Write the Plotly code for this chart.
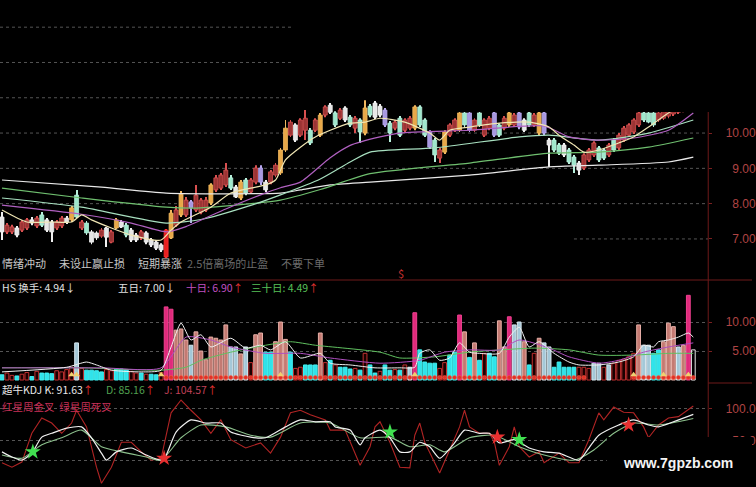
import plotly.graph_objects as go

W, H = 756, 487

# ---------------- price (candles) ----------------
opens = [7.62, 7.20, 7.20, 7.31, 7.25, 7.31, 7.54, 7.37, 7.68, 7.54,
         7.48, 7.31, 7.37, 7.59, 7.54, 8.24, 7.31, 7.45, 7.20, 7.17,
         7.08, 7.31, 6.91, 7.31, 7.48, 7.39, 7.25, 7.11, 7.03, 7.17,
         6.97, 6.91, 6.83, 6.49, 7.03, 7.39, 7.68, 7.68, 8.05, 7.82,
         7.76, 7.82, 8.02, 8.39, 8.44, 8.53, 8.73, 8.47, 8.16, 8.67,
         8.33, 8.61, 9.01, 8.61, 8.61, 8.81, 8.87, 9.52, 10.31, 10.23,
         9.94, 10.08, 10.08, 10.08, 9.94, 10.51, 10.79, 10.57, 10.42, 10.71,
         10.45, 10.14, 10.37, 10.00, 10.76, 10.85, 10.76, 10.65, 10.28, 10.14,
         10.42, 10.08, 10.14, 10.14, 10.74, 10.37, 10.03, 9.80, 9.29, 9.46,
         9.94, 10.08, 10.08, 10.57, 10.57, 10.08, 10.57, 9.94, 10.14, 10.57,
         10.23, 10.14, 10.23, 10.23, 10.57, 10.37, 10.57, 10.23, 10.00, 10.57,
         9.80, 9.80, 9.66, 9.66, 9.52, 9.32, 9.15, 9.01, 9.24, 9.38,
         9.58, 9.52, 9.38, 9.80, 9.58, 9.80, 9.94, 10.03, 10.23, 10.57,
         10.57, 10.57, 10.37, 10.42, 10.48, 10.54, 10.59, 10.65, 10.68, 10.71]
highs = [7.76, 7.45, 7.40, 7.37, 7.54, 7.59, 7.62, 7.65, 7.76, 7.59,
         7.54, 7.54, 7.65, 7.65, 7.93, 8.39, 7.54, 7.51, 7.25, 7.22,
         7.31, 7.34, 7.25, 7.59, 7.54, 7.45, 7.31, 7.17, 7.25, 7.22,
         7.03, 6.97, 6.88, 7.28, 7.82, 7.93, 8.36, 8.19, 8.10, 8.53,
         8.16, 8.19, 8.58, 8.81, 8.87, 9.15, 8.81, 8.53, 8.67, 8.73,
         8.73, 9.09, 9.09, 8.67, 8.95, 9.15, 9.58, 10.37, 10.37, 10.28,
         10.42, 10.65, 10.14, 10.42, 10.57, 10.79, 10.85, 10.62, 10.71, 10.76,
         10.51, 10.48, 10.42, 10.93, 10.82, 10.91, 10.82, 10.71, 10.34, 10.37,
         10.48, 10.42, 10.48, 10.79, 10.79, 10.42, 10.08, 9.86, 9.58, 10.08,
         10.28, 10.42, 10.65, 10.62, 10.62, 10.42, 10.62, 10.42, 10.48, 10.62,
         10.28, 10.48, 10.62, 10.57, 10.62, 10.42, 10.62, 10.57, 10.62, 10.62,
         9.86, 9.86, 9.72, 9.72, 9.58, 9.38, 9.21, 9.43, 9.58, 9.77,
         9.63, 9.58, 9.72, 9.86, 10.00, 10.20, 10.28, 10.42, 10.62, 10.62,
         10.62, 10.62, 10.62, 10.71, 10.76, 10.82, 10.85, 10.88, 10.91, 10.93]
lows = [6.97, 7.14, 7.14, 7.05, 7.20, 7.25, 7.39, 7.31, 7.34, 7.20,
        6.91, 7.25, 7.31, 7.42, 7.48, 7.59, 7.25, 7.11, 6.85, 6.97,
        7.03, 6.77, 6.88, 7.28, 7.31, 7.05, 6.91, 6.91, 6.97, 6.85,
        6.77, 6.69, 6.63, 6.46, 7.00, 7.34, 7.62, 7.62, 7.45, 7.76,
        7.70, 7.76, 7.96, 8.33, 8.39, 8.47, 8.39, 8.16, 8.10, 8.24,
        8.27, 8.55, 8.53, 8.33, 8.55, 8.75, 8.81, 9.46, 9.89, 9.75,
        9.89, 9.80, 9.66, 10.03, 9.89, 10.45, 10.54, 10.17, 10.37, 10.31,
        10.17, 10.00, 9.72, 9.94, 10.45, 10.40, 10.45, 10.17, 9.75, 10.08,
        9.89, 10.03, 10.08, 10.08, 10.17, 9.89, 9.55, 9.18, 9.15, 9.41,
        9.89, 10.03, 10.03, 10.17, 10.03, 10.03, 10.17, 9.89, 10.08, 9.89,
        9.89, 10.08, 10.17, 10.17, 10.11, 10.03, 10.17, 10.17, 9.94, 9.94,
        9.04, 9.46, 9.38, 9.32, 9.12, 8.87, 8.81, 8.95, 9.18, 9.32,
        9.18, 9.24, 9.32, 9.46, 9.52, 9.75, 9.89, 9.97, 10.17, 10.31,
        10.28, 10.17, 10.31, 10.37, 10.42, 10.48, 10.54, 10.59, 10.62, 10.65]
closes = [7.20, 7.39, 7.34, 7.11, 7.48, 7.54, 7.45, 7.59, 7.39, 7.25,
          7.20, 7.48, 7.59, 7.48, 7.88, 7.62, 7.48, 7.17, 6.91, 7.03,
          7.25, 7.05, 7.20, 7.54, 7.34, 7.11, 6.97, 6.97, 7.20, 6.91,
          6.83, 6.74, 6.69, 7.25, 7.73, 7.82, 8.27, 8.10, 7.88, 8.24,
          8.10, 8.10, 8.53, 8.73, 8.81, 8.95, 8.44, 8.19, 8.61, 8.30,
          8.67, 9.01, 8.61, 8.39, 8.90, 9.09, 9.52, 10.14, 9.94, 9.80,
          10.37, 10.42, 9.72, 10.37, 10.51, 10.74, 10.59, 10.23, 10.65, 10.37,
          10.23, 10.42, 10.03, 10.71, 10.51, 10.45, 10.51, 10.23, 10.00, 10.31,
          9.94, 10.37, 10.42, 10.74, 10.23, 9.94, 9.60, 9.38, 9.52, 10.03,
          10.23, 10.37, 10.57, 10.23, 10.08, 10.37, 10.23, 10.37, 10.42, 9.94,
          9.94, 10.42, 10.57, 10.51, 10.17, 10.08, 10.23, 10.51, 10.57, 10.00,
          9.66, 9.52, 9.43, 9.38, 9.18, 9.09, 8.95, 9.38, 9.52, 9.72,
          9.24, 9.29, 9.66, 9.52, 9.94, 10.14, 10.23, 10.37, 10.57, 10.37,
          10.31, 10.23, 10.57, 10.65, 10.71, 10.76, 10.79, 10.82, 10.85, 10.88]
# candle colour class: w white, r red, o orange, t mint, l lavender, B bright red
candle_kind = list("wrrwrrwrtw" "wrrwotrtww" "rwrowtwwrw" "wwwBororlr"
                   "rrorrrtwot" "rrlwrroorw" "rrtrorwtrw" "trtotwwltr"
                   "trrottltro" "rrotlrtrrl" "trorlwtrol" "wttwttwrrr"
                   "ttrtrrrrrt" "ttrrrrrrrr")

# moving averages of price (bar index, price)
ma5_x = [0, 5, 10, 14, 16, 18, 22, 26, 32, 34, 36, 42, 46, 50, 53, 55, 57, 60, 63, 66, 70, 73, 76,
         81, 86, 88, 90, 94, 100, 106, 110, 112, 115, 117, 120, 124, 127, 130, 134, 139]
ma5_y = [7.82, 7.48, 7.48, 7.48, 7.68, 7.54, 7.31, 7.11, 6.97, 7.25, 7.48, 7.90, 8.30, 8.44, 8.53,
         8.67, 9.24, 9.60, 9.89, 10.08, 10.28, 10.31, 10.42, 10.31, 10.00, 9.80, 10.08, 10.17, 10.28,
         10.31, 10.17, 9.94, 9.66, 9.46, 9.52, 9.72, 9.89, 10.17, 10.57, 10.93]
ma10_x = [0, 16, 26, 33, 37, 45, 52, 56, 60, 66, 70, 76, 80, 94, 109, 114, 120, 127, 134, 139]
ma10_y = [7.96, 7.70, 7.45, 7.20, 7.35, 7.85, 8.25, 8.45, 8.61, 9.30, 9.65, 9.89, 10.00, 10.08,
          10.20, 9.89, 9.80, 9.86, 10.08, 10.57]
ma20_x = [0, 16, 33, 40, 50, 56, 64, 70, 74, 87, 104, 110, 120, 130, 139]
ma20_y = [8.16, 7.90, 7.45, 7.55, 7.95, 8.25, 8.70, 9.18, 9.46, 9.58, 9.89, 9.94, 9.80, 10.00, 10.37]
ma60_x = [0, 16, 33, 40, 56, 64, 74, 94, 110, 120, 130, 139]
ma60_y = [8.44, 8.16, 7.90, 7.88, 8.10, 8.40, 8.85, 9.15, 9.43, 9.46, 9.60, 9.86]
ma120_x = [0, 20, 33, 56, 60, 66, 74, 94, 110, 120, 134, 139]
ma120_y = [8.67, 8.47, 8.30, 8.30, 8.39, 8.53, 8.61, 8.81, 9.04, 9.09, 9.18, 9.32]
price_ticks = [7, 8, 9, 10, 11, 12, 13]

# ---------------- turnover (HS) ----------------
volume = [0.9, 1.2, 0.8, 0.7, 1.0, 1.3, 0.6, 1.5, 1.2, 1.2,
          1.1, 1.6, 1.4, 1.8, 2.2, 6.4, 2.0, 1.7, 1.7, 1.6,
          1.4, 1.8, 1.6, 1.9, 1.9, 1.8, 1.5, 1.2, 1.2, 1.0,
          1.0, 0.9, 1.3, 12.6, 12.2, 8.6, 8.8, 6.9, 6.0, 8.3,
          5.0, 3.5, 7.4, 7.2, 6.9, 9.5, 5.7, 5.7, 4.5, 5.7,
          3.0, 7.8, 8.1, 4.8, 4.8, 6.6, 10.0, 7.0, 4.8, 2.0,
          2.2, 2.6, 2.6, 2.6, 8.1, 3.0, 3.4, 2.6, 2.2, 2.2,
          1.9, 2.0, 1.7, 4.6, 2.6, 1.2, 1.5, 2.6, 1.7, 1.8,
          1.7, 2.6, 2.2, 11.6, 5.2, 3.1, 2.9, 2.9, 2.0, 3.0,
          4.3, 4.8, 11.2, 8.3, 3.9, 6.4, 3.4, 4.6, 4.6, 4.0,
          10.2, 5.7, 10.9, 9.5, 10.0, 6.6, 2.6, 4.6, 7.2, 6.4,
          5.7, 2.2, 3.1, 2.2, 2.2, 2.2, 2.2, 2.2, 2.0, 2.9,
          2.9, 2.2, 2.6, 2.9, 3.4, 3.6, 4.0, 4.6, 9.5, 6.0,
          6.0, 4.6, 5.2, 6.6, 9.8, 9.2, 5.7, 6.0, 14.6, 5.2]
# m magenta, s salmon, b pale blue, c cyan, r hollow red, w hollow white
volume_kind = list("crrcrrcrcc" "crrrrbrccc" "crrcccrrcr" "ccrmmsssbs"
                   "ssssssbbsb" "rssccssscr" "rcccsrcrcc" "crcrccrccr"
                   "crbmccccrr" "ccmscscrcc" "ssmbbscrsb" "bcccccrrrb"
                   "brbrrrrrsb" "bccsssbsmw")

hs5_x = [0, 13, 17, 19, 22, 28, 32, 34, 36, 38, 40, 42, 46, 49, 52, 54, 57, 60, 64, 66, 70, 75, 80,
         83, 84, 86, 88, 90, 92, 94, 96, 100, 102, 104, 106, 108, 111, 114, 116, 120, 124, 127, 129,
         131, 132, 134, 136, 138, 139]
hs5_y = [1.4, 2.2, 3.1, 2.6, 1.7, 1.4, 1.7, 5.7, 9.8, 6.9, 7.8, 5.7, 7.2, 5.5, 6.0, 5.2, 6.6, 3.8,
         4.6, 2.9, 2.6, 2.1, 2.1, 2.2, 4.6, 5.2, 3.4, 3.8, 6.4, 4.8, 4.6, 4.6, 7.4, 9.1, 5.7, 6.6, 4.6,
         3.1, 2.6, 2.6, 3.1, 4.0, 6.0, 5.7, 6.6, 6.9, 7.4, 8.1, 7.4]
hs10_x = [0, 20, 32, 37, 42, 46, 53, 60, 66, 76, 84, 89, 94, 100, 104, 110, 114, 120, 124, 129, 134, 139]
hs10_y = [2.1, 2.1, 2.1, 7.4, 6.9, 5.7, 4.6, 4.6, 3.8, 2.9, 3.4, 4.8, 5.2, 5.2, 6.9, 5.5, 4.0, 2.9,
          3.4, 4.8, 5.7, 6.4]
hs30_x = [0, 16, 32, 37, 40, 46, 53, 58, 63, 76, 80, 87, 94, 107, 114, 120, 127, 134, 139]
hs30_y = [2.1, 2.1, 1.7, 2.2, 3.4, 4.8, 6.0, 6.6, 6.0, 4.8, 3.8, 4.0, 4.8, 5.5, 5.2, 4.3, 4.3, 4.6, 4.6]
signal_red_ranges = [(33, 117), (127, 139)]
signal_yellow = [14, 15, 32, 56, 83, 127, 133, 138]

# ---------------- KDJ ----------------
k_x = [0, 2, 4, 6, 8, 10, 13, 16, 18, 20, 21, 23, 26, 29, 32, 33, 35, 38, 41, 44, 46, 50, 53, 57,
       60, 63, 66, 67, 70, 72, 73, 76, 78, 80, 82, 84, 86, 88, 91, 93, 96, 98, 100, 103, 106, 109,
       112, 116, 118, 120, 124, 127, 130, 132, 135, 139]
k_y = [33, 25, 20, 31, 56, 62, 70, 72, 55, 31, 20, 33, 39, 28, 20, 28, 64, 83, 78, 78, 64, 56, 55,
       72, 83, 80, 80, 72, 67, 44, 55, 67, 55, 33, 33, 48, 41, 23, 47, 67, 62, 62, 47, 52, 39, 33,
       31, 20, 39, 59, 75, 83, 75, 72, 80, 91.63]
d_x = [0, 4, 8, 12, 16, 20, 24, 29, 32, 36, 40, 45, 50, 54, 60, 66, 72, 78, 82, 86, 89, 94, 99,
       104, 109, 115, 119, 123, 127, 132, 139]
d_y = [28, 23, 44, 55, 67, 41, 33, 25, 20, 55, 75, 72, 59, 56, 78, 78, 55, 56, 41, 44, 33, 55, 59,
       41, 28, 20, 36, 62, 78, 75, 85.16]
j_x = [0, 2, 4, 6, 8, 10, 12, 14, 15, 17, 19, 20, 22, 24, 26, 28, 30, 32, 34, 36, 38, 40, 42, 44,
       46, 49, 52, 54, 56, 58, 60, 62, 65, 66, 69, 71, 72, 74, 75, 76, 78, 80, 82, 83, 84, 85, 87,
       88, 90, 92, 93, 94, 96, 98, 99, 100, 102, 103, 104, 106, 108, 109, 112, 114, 116, 118, 120,
       121, 123, 125, 127, 129, 130, 132, 134, 136, 139]
j_y = [16, 9, 17, 62, 86, 78, 62, 78, 98, 72, 9, -16, 9, 48, 48, 33, 20, 23, 94, 114, 98, 83, 62,
       83, 52, 39, 47, 31, 56, 94, 98, 91, 83, 67, 67, 31, 12, 41, 72, 80, 48, 9, 8, 59, 78, 48, 16,
       0, 36, 72, 98, 72, 62, 62, 48, 12, 41, 72, 41, 25, 33, 16, 31, 16, 16, 52, 94, 83, 103, 95,
       94, 72, 55, 75, 86, 88, 104.57]
gold_star_x = [32.6, 99.6, 126]
gold_star_y = [23, 56, 75]
dead_star_x = [6.2, 78, 104]
dead_star_y = [33, 64, 52]

N = len(closes)
idx = list(range(N))

CANDLE_FILL = {"w": "#e6e6e6", "r": "#9c3434", "o": "#e8a848", "t": "#9fe8cc",
               "l": "#a898e0", "B": "#e82020"}
CANDLE_LINE = {"w": "#f0f0f0", "r": "#d85050", "o": "#f0b860", "t": "#b8f0dc",
               "l": "#b8a8f0", "B": "#ff3030"}
VOL_FILL = {"m": "#e02a7c", "s": "#c47a72", "b": "#a4c8d8", "c": "#30e2ea",
            "r": "#1a0000", "w": "rgba(0,0,0,0)"}
VOL_LINE = {"m": "#f04090", "s": "#e8b0a8", "b": "#d8e8f0", "c": "#40f0f0",
            "r": "#c03030", "w": "#e8e8e8"}

fig = go.Figure()

# candle wicks and bodies
fig.add_trace(go.Bar(x=idx, y=[h - l for h, l in zip(highs, lows)], base=lows, width=0.18,
                     marker=dict(color=[CANDLE_LINE[k] for k in candle_kind], line=dict(width=0)),
                     yaxis="y", hoverinfo="skip"))
fig.add_trace(go.Bar(x=idx, y=[max(abs(c - o), 0.03) for o, c in zip(opens, closes)],
                     base=[min(o, c) for o, c in zip(opens, closes)], width=0.8,
                     marker=dict(color=[CANDLE_FILL[k] for k in candle_kind],
                                 line=dict(color=[CANDLE_LINE[k] for k in candle_kind], width=0.8)),
                     yaxis="y", hoverinfo="skip"))

def line(xs, ys, color, axis, width=1.2, shape="spline"):
    fig.add_trace(go.Scatter(x=xs, y=ys, mode="lines", yaxis=axis,
                             line=dict(color=color, width=width, shape=shape, smoothing=0.6),
                             hoverinfo="skip"))

line(ma120_x, ma120_y, "#e8e8e8", "y")
line(ma60_x, ma60_y, "#6fbf6f", "y")
line(ma20_x, ma20_y, "#a8e0c0", "y")
line(ma10_x, ma10_y, "#b060c0", "y")
line(ma5_x, ma5_y, "#f0e6b4", "y")

# turnover bars
fig.add_trace(go.Bar(x=idx, y=volume, width=0.76, yaxis="y2",
                     marker=dict(color=[VOL_FILL[k] for k in volume_kind],
                                 line=dict(color=[VOL_LINE[k] for k in volume_kind], width=1)),
                     hoverinfo="skip"))
line(hs30_x, hs30_y, "#60c060", "y2", 1)
line(hs10_x, hs10_y, "#b050c0", "y2", 1)
line(hs5_x, hs5_y, "#f0f0f0", "y2", 1)
red_x = [i for a, b in signal_red_ranges for i in range(a, b + 1)]
fig.add_trace(go.Scatter(x=red_x, y=[0.45] * len(red_x), mode="markers", yaxis="y2",
                         marker=dict(symbol="circle", size=4, color="#e03028",
                                     line=dict(color="#ff6040", width=0.5)), hoverinfo="skip"))
fig.add_trace(go.Scatter(x=signal_yellow, y=[0.9] * len(signal_yellow), mode="markers", yaxis="y2",
                         marker=dict(symbol="triangle-up", size=6, color="#f0d070"),
                         hoverinfo="skip"))

# KDJ
line(j_x, j_y, "#b02424", "y3", 1.1, "linear")
line(d_x, d_y, "#8cc08c", "y3", 1.1)
line(k_x, k_y, "#f0f0f0", "y3", 1.2)
fig.add_trace(go.Scatter(x=gold_star_x, y=gold_star_y, mode="markers", yaxis="y3",
                         marker=dict(symbol="star", size=12, color="#e83030"), hoverinfo="skip"))
fig.add_trace(go.Scatter(x=dead_star_x, y=dead_star_y, mode="markers", yaxis="y3",
                         marker=dict(symbol="star", size=12, color="#40e050"), hoverinfo="skip"))

FS = "\u2007"
AX = dict(side="right", anchor="x", showline=False, zeroline=False, showgrid=True,
          griddash="dot", gridcolor="#555555", gridwidth=1, ticks="outside", ticklen=3,
          tickcolor="#7a2020", tickfont=dict(family="Liberation Sans", size=12, color="#b04444"),
          ticklabelstandoff=11, fixedrange=True)

XR = 712 / W
fig.update_layout(
    width=W, height=H, margin=dict(l=0, r=0, t=0, b=0),
    paper_bgcolor="black", plot_bgcolor="black", showlegend=False, barmode="overlay",
    xaxis=dict(domain=[0, XR], range=[-0.4, 142.0], visible=False, fixedrange=True),
    yaxis=dict(AX, domain=[1 - 270 / H, 1], range=[6.12, 13.77], showgrid=False,
               tickvals=price_ticks[:4],
               ticktext=[FS + "7.00", FS + "8.00", FS + "9.00", "10.00"]),
    yaxis2=dict(AX, domain=[1 - 382 / H, 1 - 280 / H], range=[-0.34, 17.24],
                tickvals=[5, 10], ticktext=[FS + "5.00", "10.00"]),
    yaxis3=dict(AX, domain=[0, 1 - 383 / H], range=[-21.9, 140.6],
                tickvals=[20, 50, 100], ticktext=["", FS + "50.0", "100.0"]),
)

def fx(p):
    return p / W

def fy(p):
    return 1 - p / H

# visible extent (pixels) of each price grid line in the reference picture
grid_span = {13: (0, 295), 12: (0, 295), 11: (0, 295), 10: (0, 712), 9: (0, 712),
             8: (0, 712), 7: (577, 712)}
shapes = [dict(type="line", xref="paper", yref="y", x0=fx(grid_span[v][0]), x1=fx(grid_span[v][1]),
               y0=v, y1=v, line=dict(color="#555555", width=1, dash="dot"), layer="below")
          for v in price_ticks]
shapes += [
    # masked upper area
    dict(type="rect", xref="paper", yref="paper", x0=fx(295), x1=1, y0=fy(99), y1=1,
         fillcolor="black", line=dict(width=0), layer="above"),
    dict(type="rect", xref="paper", yref="paper", x0=fx(440), x1=1, y0=fy(112), y1=1,
         fillcolor="black", line=dict(width=0), layer="above"),
    # panel separators and right axis line
    dict(type="line", xref="paper", yref="paper", x0=0, x1=1, y0=fy(280), y1=fy(280),
         line=dict(color="#6e1a1a", width=1), layer="above"),
    dict(type="line", xref="paper", yref="paper", x0=XR, x1=1, y0=fy(383), y1=fy(383),
         line=dict(color="#6e1a1a", width=1), layer="above"),
    dict(type="line", xref="paper", yref="paper", x0=XR, x1=XR, y0=fy(487), y1=fy(112),
         line=dict(color="#6e1a1a", width=1), layer="above"),
    # watermark box
    dict(type="rect", xref="paper", yref="paper", x0=fx(610), x1=1, y0=0, y1=fy(437),
         fillcolor="black", line=dict(width=0), layer="above"),
]
fig.update_layout(shapes=shapes)

F = "Noto Sans CJK SC"
RED = "#e03030"
def note(x, y, text, color="#dcdcdc", size=10.5, anchor="left"):
    fig.add_annotation(xref="paper", yref="paper", x=fx(x), y=fy(y), text=text, showarrow=False,
                       xanchor=anchor, yanchor="middle",
                       font=dict(family=F, size=size, color=color))

note(0, 263, "情绪冲动", "#c8c8c8", 11)
note(57, 263, "未设止赢止损", "#c8c8c8", 11)
note(137, 263, "短期暴涨", "#c8c8c8", 11)
note(186, 263, "2.5倍离场的止盈", "#6a6a6a", 11)
note(280, 263, "不要下单", "#6a6a6a", 11)
note(403, 273, "$", "#c83030", 11, "center")

note(0, 287, "HS 换手: 4.94<span style='color:#f0f0f0'>↓</span>", "#e0e0e0")
note(117, 287, "五日: 7.00<span style='color:#f0f0f0'>↓</span>", "#e0e0e0")
note(185, 287, "十日: 6.90<span style='color:%s'>↑</span>" % RED, "#c050c0")
note(250, 287, "三十日: 4.49<span style='color:%s'>↑</span>" % RED, "#58c058")

note(0, 389, "超牛KDJ K: 91.63<span style='color:%s'>↑</span>" % RED, "#e8e8e8")
note(105, 389, "D: 85.16<span style='color:%s'>↑</span>" % RED, "#50a050")
note(163, 389, "J: 104.57<span style='color:%s'>↑</span>" % RED, "#c04058")
note(0, 406, "红星周金叉  绿星周死叉", "#c83058")

fig.add_annotation(xref="paper", yref="paper", x=fx(682), y=fy(463), text="<b>www.7gpzb.com</b>",
                   showarrow=False, xanchor="center", yanchor="middle",
                   font=dict(family="Liberation Sans", size=14, color="#f4f4f4"))

fig.write_html("out.html", config={"displayModeBar": False},
               post_script="document.body.style.margin='0';document.body.style.overflow='hidden';")
